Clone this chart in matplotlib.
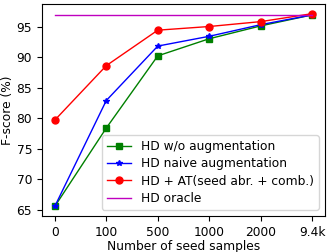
import numpy as np
import matplotlib
matplotlib.use("Agg")
import matplotlib.pyplot as plt

xlabels = ['0', '100', '500', '1000', '2000', '9.4k']
no_aug = [65.6, 78.4, 90.2, 93.0, 95.1, 96.9]
naive_aug = [65.6, 82.9, 91.8, 93.4, 95.3, 96.9]
at_aug = [79.7, 88.6, 94.4, 95.0, 95.8, 97.1]
oracle = 96.9

plt.rcParams['font.size'] = 8.8

x = np.arange(len(xlabels))

fig = plt.figure(figsize=(3.33, 2.52), dpi=100)
ax = fig.add_axes([0.126, 0.143, 0.85, 0.841])

ax.plot(x, no_aug, color='green', marker='s', markersize=4, linewidth=1, label='HD w/o augmentation')
ax.plot(x, naive_aug, color='blue', marker='*', markersize=4, linewidth=1, label='HD naive augmentation')
ax.plot(x, at_aug, color='red', marker='o', markersize=5, linewidth=1, label='HD + AT(seed abr. + comb.)')
ax.plot([x[0], x[-1]], [oracle, oracle], color='m', linewidth=1, label='HD oracle')

ax.set_xticks(x)
ax.set_xticklabels(xlabels)
ax.set_yticks([65, 70, 75, 80, 85, 90, 95])
ax.set_xlabel('Number of seed samples', labelpad=1)
ax.set_ylabel('F-score (%)', labelpad=2)
ax.legend(loc='lower right', handlelength=2, borderpad=0.4, labelspacing=0.35)

fig.savefig('out.png', dpi=100)
